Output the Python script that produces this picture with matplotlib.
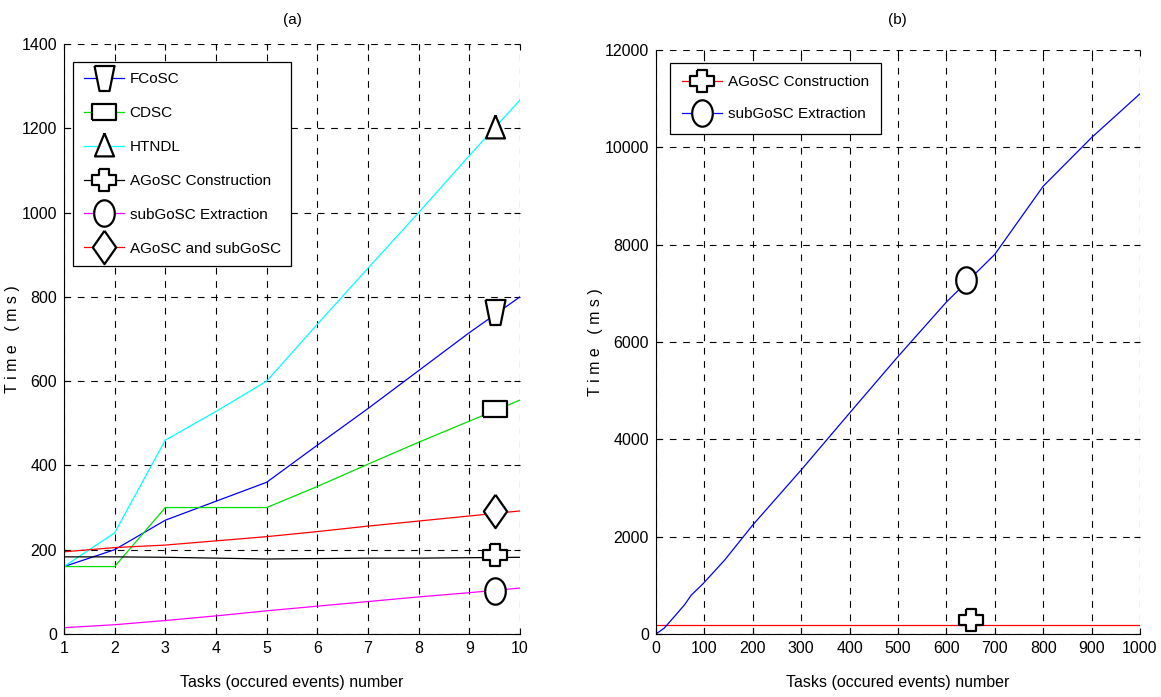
import numpy as np
import matplotlib
matplotlib.use('Agg')
from matplotlib import pyplot as plt
from matplotlib.lines import Line2D

plt.rcParams['font.family'] = ['Liberation Sans', 'DejaVu Sans']

# (a) 数据
tasks_a = [1, 2, 3, 4, 5, 6, 7, 8, 9, 10]
fcosc = [160, 200, 270, 315, 360, 448, 535, 625, 715, 800]
cdsc = [160, 160, 300, 300, 300, 350, 403, 455, 505, 555]
htndl = [160, 240, 460, 528, 600, 735, 868, 1000, 1135, 1267]
agosc = [183, 183, 182, 180, 178, 179, 180, 180, 181, 182]
subgosc = [15, 22, 32, 43, 55, 66, 77, 88, 98, 109]
both = [195, 205, 211, 221, 231, 243, 256, 268, 280, 292]
mark_x_a = 9.5
mark_y_a = [765, 535, 1200, 187, 103, 292]

# (b) 数据
tasks_b = [0, 17, 40, 59, 73, 97, 142, 200, 300, 400, 500, 600, 700, 800, 900, 1000]
extract_b = [0, 120, 380, 600, 800, 1030, 1520, 2240, 3370, 4540, 5700, 6820, 7800, 9200, 10200, 11100]
construct_b = [190, 190]
construct_x = [0, 1000]
mark_b = [(650, 290), (640, 7280)]


def poly(pts):
    return list(pts) + [pts[0]]


# 自定义标记（MATLAB 风格，有些被拉伸）
trap = poly([(-0.6, 0.75), (0.6, 0.75), (0.3, -0.75), (-0.3, -0.75)])
rect = poly([(-1, -0.67), (1, -0.67), (1, 0.67), (-1, 0.67)])
tri = poly([(0, 1), (0.72, -0.75), (-0.72, -0.75)])
t = np.linspace(0, 2 * np.pi, 60)
ellipse = [(0.78 * np.cos(a), np.sin(a)) for a in t]
diamond = poly([(0, 1), (0.7, 0), (0, -1), (-0.7, 0)])
a, b = 0.36, 0.8
plus = poly([(-a, b * 0.9), (a, b * 0.9), (a, a * 0.9), (b, a * 0.9), (b, -a * 0.9), (a, -a * 0.9),
             (a, -b * 0.9), (-a, -b * 0.9), (-a, -a * 0.9), (-b, -a * 0.9), (-b, a * 0.9), (-a, a * 0.9)])

fig = plt.figure(figsize=(11.61, 6.97), dpi=100)
ax1 = fig.add_axes([0.0551, 0.0904, 0.3928, 0.8465])
ax2 = fig.add_axes([0.565, 0.0904, 0.4169, 0.8379])


def style(ax, lx):
    ax.grid(True, linestyle=(0, (6, 6)), color='black', linewidth=0.8)
    ax.spines['top'].set_visible(False)
    ax.spines['right'].set_visible(False)
    ax.tick_params(direction='in', top=True, right=True, labelsize=11.5, length=4, pad=5)
    ax.set_xlabel('Tasks (occured events) number', fontsize=11.5)
    ax.xaxis.set_label_coords(0.5, -0.07)
    ax.set_ylabel('T i m e   ( m s )', fontsize=11.5)
    ax.yaxis.set_label_coords(lx, 0.5)
    ax.set_axisbelow(True)


series = [
    ('FCoSC', fcosc, 'blue', trap, 18),
    ('CDSC', cdsc, '#00e000', rect, 17),
    ('HTNDL', htndl, 'cyan', tri, 19),
    ('AGoSC Construction', agosc, 'black', plus, 17),
    ('subGoSC Extraction', subgosc, 'magenta', ellipse, 19),
    ('AGoSC and subGoSC', both, 'red', diamond, 24),
]

handles = []
for (name, ys, col, mk, ms), my in zip(series, mark_y_a):
    ax1.plot(tasks_a, ys, color=col, linewidth=0.9)
    ax1.plot([mark_x_a], [my], linestyle='none', marker=mk, markersize=ms,
             markerfacecolor='white', markeredgecolor='black', markeredgewidth=1.6)
    handles.append(Line2D([], [], color=col, linewidth=0.9, marker=mk, markersize=ms,
                          markerfacecolor='white', markeredgecolor='black',
                          markeredgewidth=1.6, label=name))

ax1.set_xlim(1, 10)
ax1.set_ylim(0, 1400)
ax1.set_xticks(range(1, 11))
ax1.set_yticks(range(0, 1401, 200))
style(ax1, -0.096)
leg = ax1.legend(handles=handles, loc='upper left', bbox_to_anchor=(0.02, 0.97),
                 borderaxespad=0, fontsize=11, handlelength=2.6, labelspacing=1.3,
                 borderpad=0.7, handletextpad=0.4, fancybox=False, framealpha=1,
                 edgecolor='black')
leg.get_frame().set_linewidth(0.9)

# (b)
ax2.plot(construct_x, construct_b, color='red', linewidth=0.9)
ax2.plot(tasks_b, extract_b, color='blue', linewidth=0.9)
ax2.plot([mark_b[0][0]], [mark_b[0][1]], linestyle='none', marker=plus, markersize=17,
         markerfacecolor='white', markeredgecolor='black', markeredgewidth=1.6)
ax2.plot([mark_b[1][0]], [mark_b[1][1]], linestyle='none', marker=ellipse, markersize=19,
         markerfacecolor='white', markeredgecolor='black', markeredgewidth=1.6)
ax2.set_xlim(0, 1000)
ax2.set_ylim(0, 12000)
ax2.set_xticks(range(0, 1001, 100))
ax2.set_yticks(range(0, 12001, 2000))
style(ax2, -0.109)
h2 = [Line2D([], [], color='red', linewidth=0.9, marker=plus, markersize=17,
             markerfacecolor='white', markeredgecolor='black', markeredgewidth=1.6,
             label='AGoSC Construction'),
      Line2D([], [], color='blue', linewidth=0.9, marker=ellipse, markersize=19,
             markerfacecolor='white', markeredgecolor='black', markeredgewidth=1.6,
             label='subGoSC Extraction')]
leg2 = ax2.legend(handles=h2, loc='upper left', bbox_to_anchor=(0.029, 0.978),
                  borderaxespad=0, fontsize=11, handlelength=2.6, labelspacing=1.2,
                  borderpad=0.8, handletextpad=0.4, fancybox=False, framealpha=1,
                  edgecolor='black')
leg2.get_frame().set_linewidth(0.9)

fig.text(292 / 1161, 1 - 20 / 697, '(a)', fontsize=11, ha='center', va='center')
fig.text(897 / 1161, 1 - 20 / 697, '(b)', fontsize=11, ha='center', va='center')

plt.savefig('out.png', dpi=100)
